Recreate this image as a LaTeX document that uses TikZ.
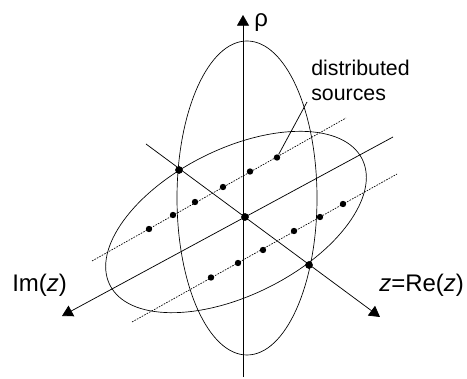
\documentclass[tikz,border=0pt]{standalone}
\usepackage{fontspec}
\setmainfont{Liberation Sans}
\usetikzlibrary{arrows.meta}

\tikzset{
    axisline/.style={line width=0.55pt,-{Triangle[length=8pt,width=9pt]}},
    sourceline/.style={line width=0.5pt,dash pattern=on 1.2pt off 0.9pt},
    source/.style={circle,fill=black,inner sep=0pt,minimum size=4.8pt},
    bigdot/.style={circle,fill=black,inner sep=0pt,minimum size=5.8pt},
    lbl/.style={inner sep=0pt,anchor=base west}
}

\begin{document}
\begin{tikzpicture}[x=0.75pt,y=0.75pt]

    \useasboundingbox (0,0) rectangle (467,378);

    % Axis ends
    \coordinate (rhotop) at (243,363);
    \coordinate (rhobot) at (243,1);
    \coordinate (imend) at (393,241);
    \coordinate (imtip) at (62,62);
    \coordinate (restart) at (146,234);
    \coordinate (retip) at (380,61);

    % Dotted lines
    \coordinate (upa) at (92,117);
    \coordinate (upb) at (346,260);
    \coordinate (loa) at (132,56);
    \coordinate (lob) at (397,204);

    % Ellipses
    \draw[line width=0.5pt] (247,180) ellipse [x radius=70,y radius=157];
    \draw[line width=0.5pt,rotate around={26.5:(236,156)}] (236,156) ellipse [x radius=141,y radius=73];

    % Axes
    \draw[axisline] (rhobot) -- (rhotop);
    \draw[axisline] (imend) -- (imtip);
    \draw[axisline] (restart) -- (retip);

    \draw[sourceline] (upa) -- (upb);
    \draw[sourceline] (loa) -- (lob);

    % Sources
    \foreach \x/\y/\n in {149/149/a1,173/163/a2,195/176/a3,223/191/a4,250/206.5/a5,277/220.5/a6,
                          211/100.5/b1,238/115/b2,263/128/b3,294/147/b4,320/161/b5,343/174/b6}
        \node[source] (\n) at (\x,\y) {};

    % Crossing points
    \node[bigdot] (origin) at (245,161) {};
    \node[bigdot] (left) at (179,208) {};
    \node[bigdot] (right) at (309,113) {};

    % Labels
    \node[lbl,font=\fontsize{16}{18.75}\selectfont] (dist) at (311,302) {distributed};
    \node[lbl,font=\fontsize{16}{18.75}\selectfont] (srcs) at (311,277) {sources};
    \node[lbl,font=\fontsize{18}{20}\selectfont] (rho) at (254,351) {ρ};
    \node[lbl,font=\fontsize{18}{20}\selectfont] (imz) at (12,86) {Im(\textit{z})};
    \node[lbl,font=\fontsize{18}{20}\selectfont] (rez) at (379,86) {\textit{z}=Re(\textit{z})};

    % Leader
    \coordinate (leader) at (307,276);
    \draw[line width=0.55pt] (a6) -- (leader);

\end{tikzpicture}
\end{document}
